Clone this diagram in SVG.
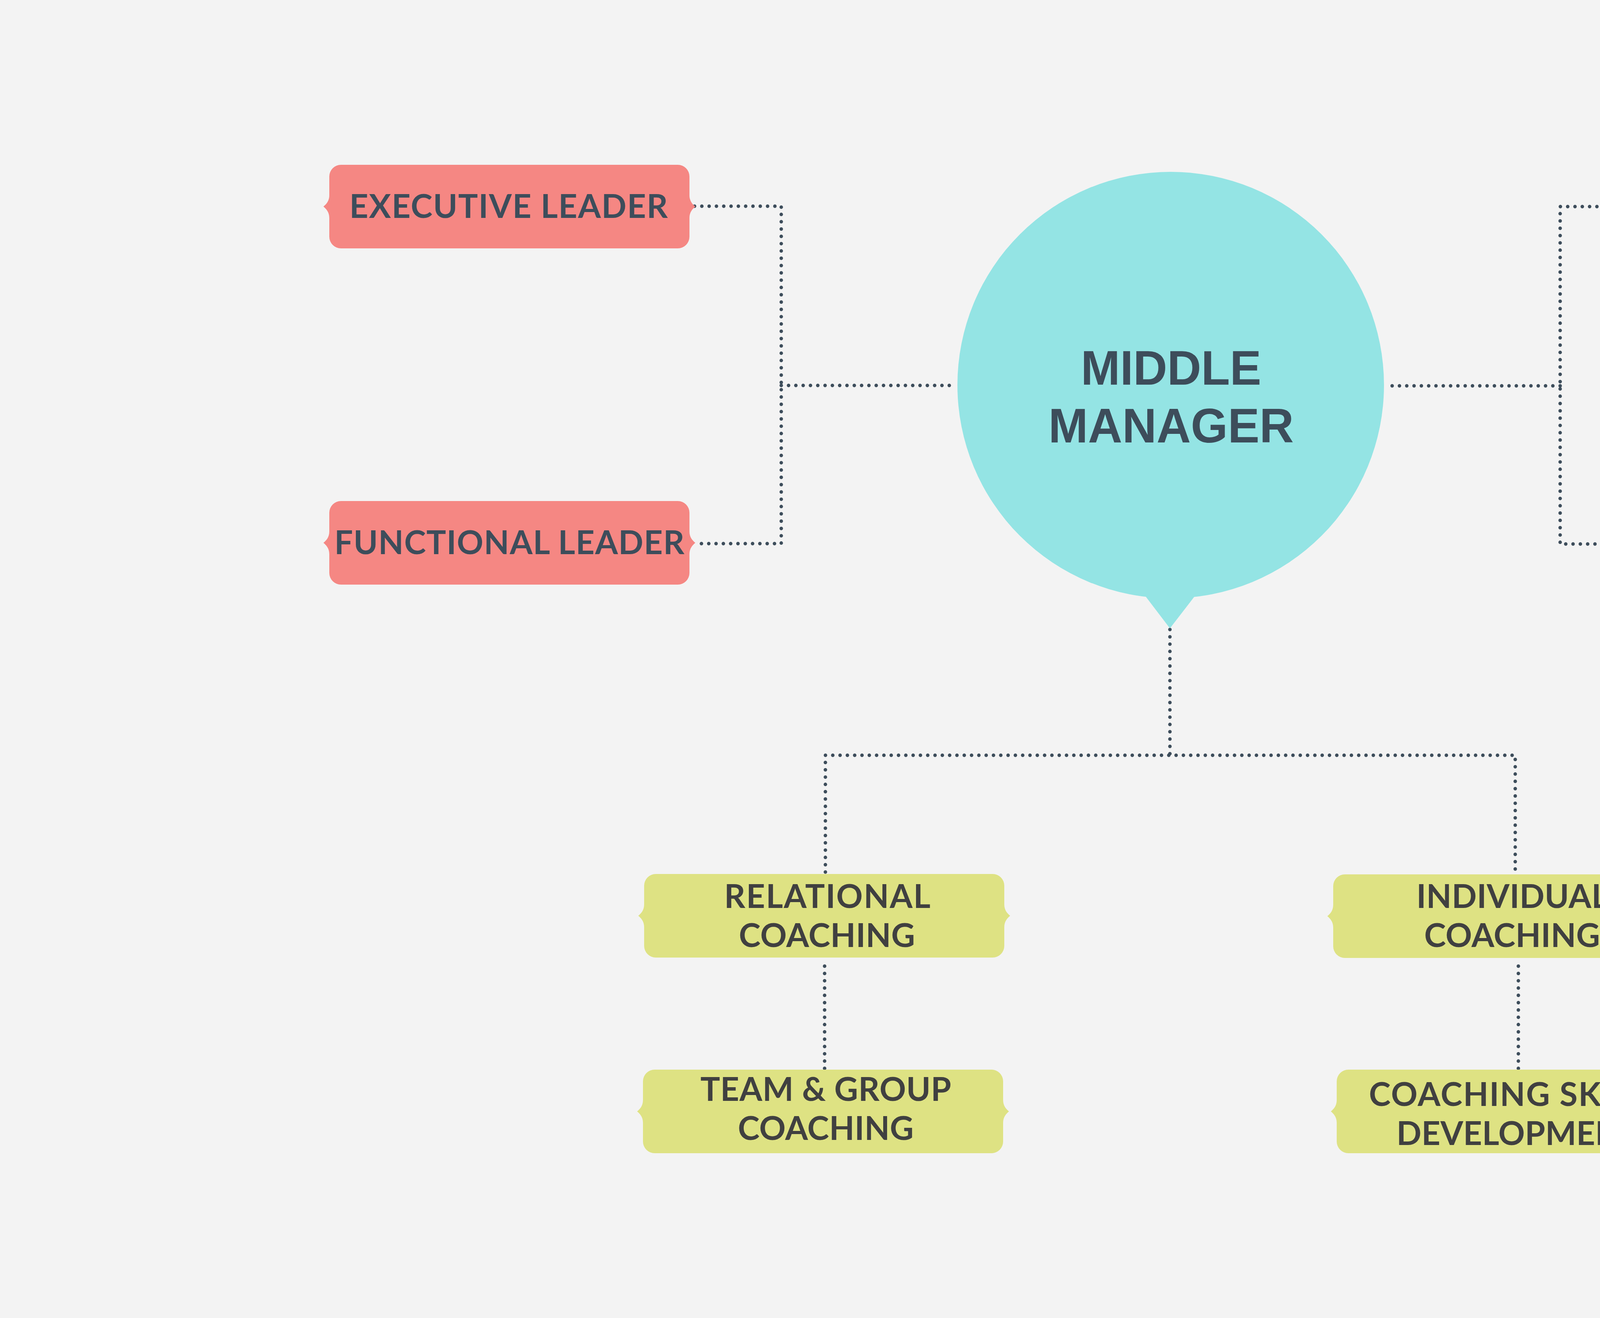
<svg xmlns="http://www.w3.org/2000/svg" xmlns:xlink="http://www.w3.org/1999/xlink" width="6000" height="3375" viewBox="0 0 6000 3375">
<defs>
<style>
.bg{fill:#f3f3f3}
.red{fill:#f58783}
.yel{fill:#dee283}
.hub{fill:#94e4e4}
.dots{fill:none;stroke:#3d4d5b;stroke-width:9;stroke-linecap:round;stroke-dasharray:0 18.7}
.lbl{font-family:Lato,"Open Sans","Liberation Sans",sans-serif;font-weight:700;font-size:84px;text-anchor:middle}
.rt{fill:#3d4d5b}
.yt{fill:#404040}
.hubt{font-family:"Liberation Sans",Arial,sans-serif;font-weight:700;font-size:124px;text-anchor:middle;fill:#3d4d5b}
</style>
<path id="box" d="M 30 0 H 892 A 30 30 0 0 1 922 30 V 78 C 922 93 930 101 937 107 C 930 113 922 121 922 136 V 184 A 30 30 0 0 1 892 214 H 30 A 30 30 0 0 1 0 184 V 136 C 0 121 -8 113 -15 107 C -8 101 0 93 0 78 V 30 A 30 30 0 0 1 30 0 Z"/>
</defs>
<rect class="bg" x="0" y="0" width="6000" height="3375"/>

<g id="connectors">
<path class="dots" d="M 1778 528 H 2000 V 1392 H 1778"/>
<path class="dots" d="M 2000 987 H 2442"/>
<path class="dots" d="M 4219 529 H 3994 V 1393 H 4219"/>
<path class="dots" d="M 3994 988 H 3551"/>
<path class="dots" d="M 2995 1612 V 1934"/>
<path class="dots" d="M 2113 2233 V 1934 H 3879 V 2233"/>
<path class="dots" d="M 2111 2474 V 2736"/>
<path class="dots" d="M 3887 2474 V 2736"/>
</g>

<g id="middle-manager">
<circle class="hub" cx="2997" cy="986" r="546"/>
<polygon class="hub" points="2912,1500 2995,1609 3079,1500"/>
<text class="hubt" x="2998" y="985" textLength="462" lengthAdjust="spacingAndGlyphs">MIDDLE</text>
<text class="hubt" x="2998" y="1133" textLength="628" lengthAdjust="spacingAndGlyphs">MANAGER</text>
</g>

<g id="executive-leader">
<use xlink:href="#box" class="red" transform="translate(843 422)"/>
<text class="lbl rt" x="1302" y="558" textLength="815" lengthAdjust="spacing">EXECUTIVE LEADER</text>
</g>

<g id="functional-leader">
<use xlink:href="#box" class="red" transform="translate(843 1283)"/>
<text class="lbl rt" x="1304" y="1419" textLength="896" lengthAdjust="spacing">FUNCTIONAL LEADER</text>
</g>

<g id="departmental-leader">
<use xlink:href="#box" class="red" transform="translate(4232 422)"/>
<text class="lbl rt" x="4700" y="503" textLength="683" lengthAdjust="spacing">DEPARTMENTAL</text>
<text class="lbl rt" x="4699" y="603" textLength="326" lengthAdjust="spacing">LEADER</text>
</g>

<g id="aspiring-leader">
<use xlink:href="#box" class="red" transform="translate(4232 1283)"/>
<text class="lbl rt" x="4697" y="1421" textLength="761" lengthAdjust="spacing">ASPIRING LEADER</text>
</g>

<g id="relational-coaching">
<use xlink:href="#box" class="yel" transform="translate(1649 2238)"/>
<text class="lbl yt" x="2118" y="2325" textLength="528" lengthAdjust="spacing">RELATIONAL</text>
<text class="lbl yt" x="2117" y="2425" textLength="451" lengthAdjust="spacing">COACHING</text>
</g>

<g id="individual-coaching">
<use xlink:href="#box" class="yel" transform="translate(3413 2239)"/>
<text class="lbl yt" x="3872" y="2325" textLength="492" lengthAdjust="spacing">INDIVIDUAL</text>
<text class="lbl yt" x="3871" y="2425" textLength="450" lengthAdjust="spacing">COACHING</text>
</g>

<g id="team-group-coaching">
<use xlink:href="#box" class="yel" transform="translate(1646 2739)"/>
<text class="lbl yt" x="2114" y="2819" textLength="642" lengthAdjust="spacing">TEAM &amp; GROUP</text>
<text class="lbl yt" x="2114" y="2919" textLength="450" lengthAdjust="spacing">COACHING</text>
</g>

<g id="coaching-skills-development">
<use xlink:href="#box" class="yel" transform="translate(3422 2739)"/>
<text class="lbl yt" x="3885" y="2832" textLength="761" lengthAdjust="spacing">COACHING SKILLS</text>
<text class="lbl yt" x="3887" y="2932" textLength="624" lengthAdjust="spacing">DEVELOPMENT</text>
</g>
</svg>
